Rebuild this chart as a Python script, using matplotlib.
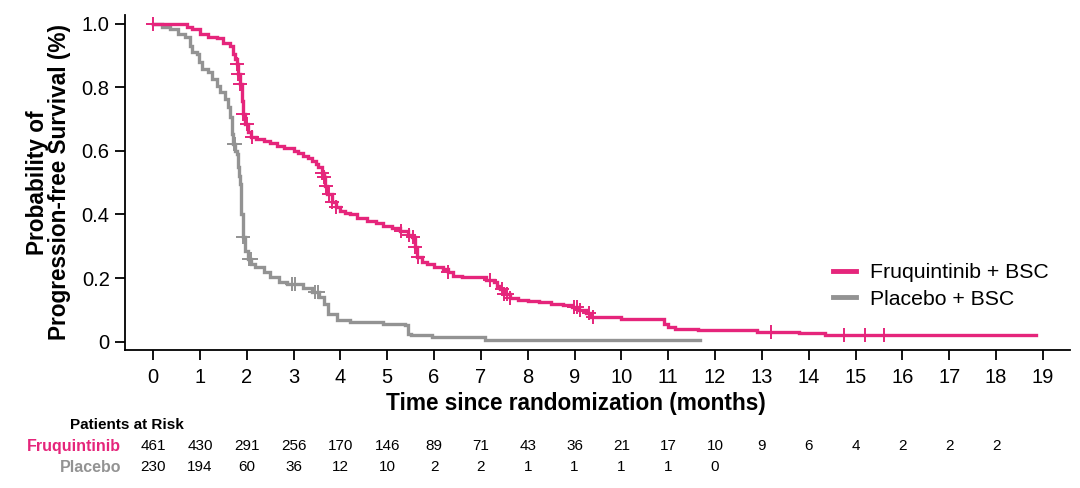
import numpy as np
import matplotlib
matplotlib.use("Agg")
import matplotlib.pyplot as plt
import matplotlib.transforms as mtransforms

plt.rcParams['font.family'] = ['Liberation Sans', 'DejaVu Sans']

# ---------------- data ----------------
t_fru = [0, 0.72, 0.83, 1.0, 1.18, 1.36, 1.5, 1.64, 1.71, 1.75, 1.79, 1.82, 1.86, 1.89, 1.93, 1.97,
         2.03, 2.1, 2.2, 2.36, 2.5, 2.64, 2.8, 3.0, 3.1, 3.21, 3.3, 3.39, 3.47, 3.53, 3.6, 3.64, 3.68,
         3.72, 3.81, 3.9, 3.99, 4.1, 4.2, 4.35, 4.56, 4.75, 4.92, 5.1, 5.27, 5.45, 5.52, 5.59, 5.64,
         5.75, 5.84, 6.0, 6.2, 6.3, 6.41, 6.6, 6.84, 7.1, 7.27, 7.35, 7.41, 7.5, 7.62, 7.8, 8.0, 8.25,
         8.5, 8.75, 8.95, 9.1, 9.25, 9.35, 10.0, 10.9, 11.0, 11.14, 11.63, 12.9, 13.8, 14.35]
s_fru = [1.0, 0.99, 0.983, 0.967, 0.959, 0.955, 0.94, 0.93, 0.905, 0.89, 0.873, 0.84, 0.81, 0.758, 0.716,
         0.685, 0.66, 0.643, 0.637, 0.632, 0.624, 0.616, 0.608, 0.60, 0.593, 0.585, 0.577, 0.569, 0.558,
         0.548, 0.53, 0.517, 0.49, 0.465, 0.438, 0.425, 0.412, 0.405, 0.40, 0.39, 0.38, 0.372, 0.365,
         0.357, 0.349, 0.335, 0.328, 0.297, 0.265, 0.252, 0.244, 0.236, 0.228, 0.218, 0.208, 0.205, 0.202,
         0.195, 0.187, 0.175, 0.166, 0.15, 0.136, 0.132, 0.128, 0.124, 0.12, 0.115, 0.11, 0.1, 0.09,
         0.078, 0.072, 0.055, 0.045, 0.04, 0.037, 0.032, 0.027, 0.021]
end_fru = 18.85
cens_fru = [0, 1.79, 1.82, 1.86, 1.93, 2.0, 2.12, 3.6, 3.66, 3.7, 3.76, 3.83, 3.9, 5.3, 5.47, 5.55, 5.6,
            5.66, 6.3, 7.2, 7.45, 7.5, 7.56, 7.62, 8.98, 9.05, 9.12, 9.3, 9.4, 13.2, 14.75, 15.2, 15.6]

t_pla = [0, 0.18, 0.36, 0.54, 0.68, 0.79, 0.83, 0.93, 0.97, 1.04, 1.18, 1.25, 1.36, 1.43, 1.54, 1.61,
         1.64, 1.68, 1.71, 1.75, 1.79, 1.82, 1.84, 1.86, 1.88, 1.91, 1.96, 2.03, 2.1, 2.18, 2.36, 2.5,
         2.68, 2.85, 3.21, 3.39, 3.55, 3.64, 3.74, 3.92, 4.2, 4.92, 5.38, 5.45, 5.5, 5.95, 7.09]
s_pla = [1.0, 0.99, 0.983, 0.967, 0.957, 0.93, 0.91, 0.905, 0.878, 0.857, 0.847, 0.826, 0.805, 0.784,
         0.763, 0.737, 0.706, 0.653, 0.62, 0.60, 0.59, 0.548, 0.52, 0.496, 0.40, 0.328, 0.286, 0.26,
         0.245, 0.234, 0.218, 0.204, 0.187, 0.181, 0.169, 0.155, 0.14, 0.119, 0.087, 0.068, 0.061,
         0.055, 0.053, 0.024, 0.02, 0.014, 0.005]
end_pla = 11.68
cens_pla = [1.72, 1.74, 1.92, 2.05, 2.08, 2.96, 3.02, 3.46, 3.52]

months = list(range(0, 20))
risk_fru = [461, 430, 291, 256, 170, 146, 89, 71, 43, 36, 21, 17, 10, 9, 6, 4, 2, 2, 2]
risk_pla = [230, 194, 60, 36, 12, 10, 2, 2, 1, 1, 1, 1, 0]

series_names = ['Fruquintinib + BSC', 'Placebo + BSC']
row_names = ['Fruquintinib', 'Placebo']

# ---------------- style ----------------
c_fru = '#E5257B'
c_pla = '#939393'

fig = plt.figure(figsize=(10.8, 4.88), dpi=100)
ax = fig.add_axes([125 / 1080, 1 - 350 / 488, 945 / 1080, 335 / 488])


def km(ax, t, s, end, cens, color, label):
    t = np.asarray(t, float)
    s = np.asarray(s, float)
    tt = np.append(t, end)
    ss = np.append(s, s[-1])
    ax.plot(tt, ss, drawstyle='steps-post', color=color, lw=2.4, label=label,
            solid_joinstyle='miter', zorder=3)
    c = np.asarray(cens, float)
    idx = np.searchsorted(t, c, side='right') - 1
    ax.plot(c, s[idx], ls='none', marker='+', ms=10, mew=1.4, color=color, zorder=4)


km(ax, t_pla, s_pla, end_pla, cens_pla, c_pla, series_names[1])
km(ax, t_fru, s_fru, end_fru, cens_fru, c_fru, series_names[0])

ax.set_xlim(-0.6, 19.58)
ax.set_ylim(-0.026, 1.027)
ax.set_xticks(months)
ax.set_xticklabels([str(m) for m in months])
ax.set_yticks([0, 0.2, 0.4, 0.6, 0.8, 1.0])
ax.set_yticklabels(['0', '0.2', '0.4', '0.6', '0.8', '1.0'])
for side in ['top', 'right']:
    ax.spines[side].set_visible(False)
for side in ['left', 'bottom']:
    ax.spines[side].set_linewidth(1.3)
ax.tick_params(axis='both', direction='out', length=7, width=1.3, labelsize=14.5, pad=4)
ax.tick_params(axis='x', pad=6)

ax.set_xlabel('Time since randomization (months)', fontsize=16.3, fontweight='bold')
ax.xaxis.set_label_coords((576 - 125) / 945, -0.125)
ax.set_ylabel('Probability of\nProgression-free Survival (%)', fontsize=16.3, fontweight='bold',
              labelpad=8, linespacing=0.92)

# legend (order: Fruquintinib first)
h, l = ax.get_legend_handles_labels()
order = [l.index(series_names[0]), l.index(series_names[1])]
leg = ax.legend([h[i] for i in order], [l[i] for i in order], loc='center left',
                bbox_to_anchor=((833 - 125) / 945, (350 - 286) / 335), frameon=False,
                fontsize=15.3, handlelength=1.1, handletextpad=0.65, labelspacing=0.35,
                borderpad=0, borderaxespad=0)
for line in leg.get_lines():
    line.set_linewidth(3.5)

# risk table
trans = mtransforms.blended_transform_factory(ax.transData, fig.transFigure)
fig.text(70 / 1080, 1 - 425 / 488, 'Patients at Risk', fontsize=11, fontweight='bold',
         ha='left', va='center')
y_fru = 1 - 446 / 488
y_pla = 1 - 467 / 488
fig.text(121 / 1080, y_fru, row_names[0], fontsize=11.5, fontweight='bold', color=c_fru,
         ha='right', va='center')
fig.text(121 / 1080, y_pla, row_names[1], fontsize=11.5, fontweight='bold', color=c_pla,
         ha='right', va='center')
for m, n in zip(months, risk_fru):
    ax.text(m, y_fru, str(n), transform=trans, fontsize=11, ha='center', va='center')
for m, n in zip(months, risk_pla):
    ax.text(m, y_pla, str(n), transform=trans, fontsize=11, ha='center', va='center')

fig.savefig('out.png', dpi=100)
